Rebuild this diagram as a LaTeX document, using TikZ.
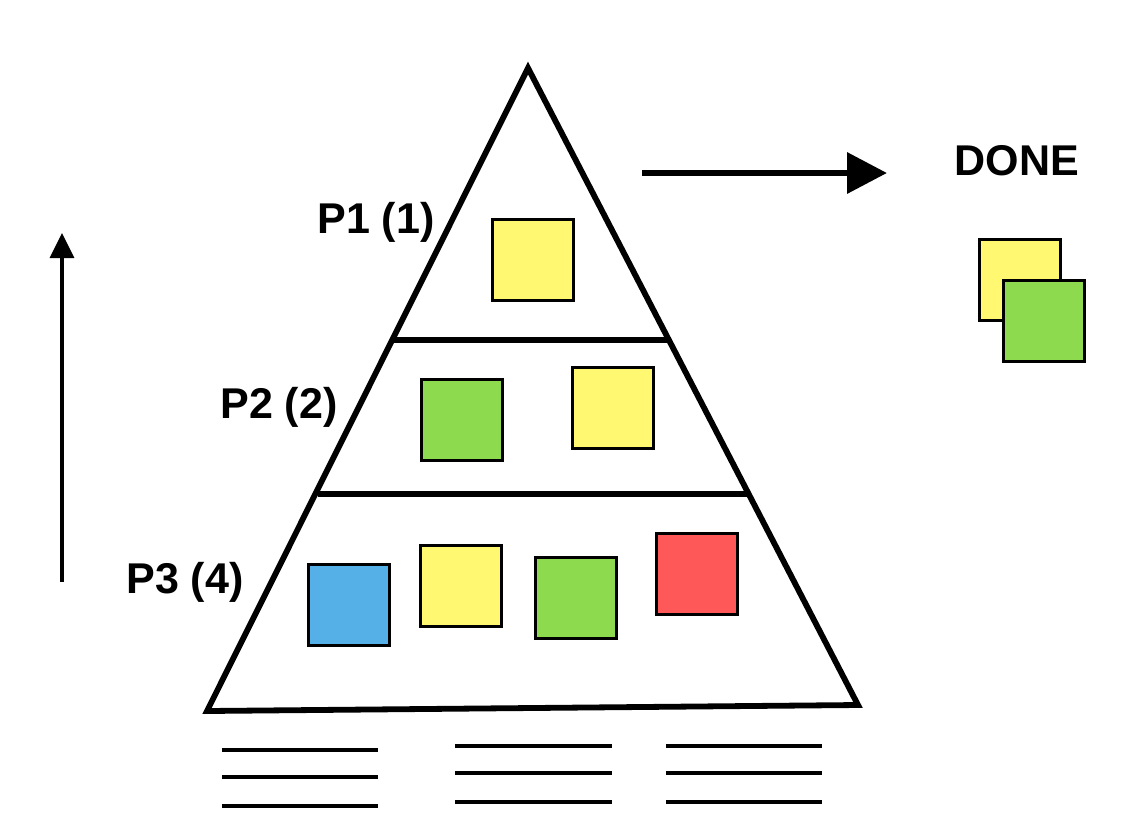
\documentclass[tikz,border=0pt]{standalone}
\usepackage{fontspec}
\setmainfont{Liberation Sans}
\usetikzlibrary{arrows.meta,positioning}
\definecolor{noteyellow}{RGB}{255,248,112}
\definecolor{notegreen}{RGB}{142,218,78}
\definecolor{noteblue}{RGB}{84,176,230}
\definecolor{notered}{RGB}{255,88,88}
\tikzset{
    %Define style for the sticky notes
    note/.style={
           rectangle,
           draw=black,
           line width=2pt,
           minimum size=1.62cm,
           inner sep=0pt},
    %Define style for the level labels
    lvl/.style={
           font=\fontsize{24.5}{28}\selectfont\bfseries,
           inner sep=0pt},
    % Pyramid outline
    wall/.style={
           line width=3.3pt,
           line join=miter},
    % Define arrow style
    pil/.style={
           -{Triangle[length=0.8cm,width=0.8cm]},
           line width=3.8pt},
    % Lines under the base
    rule/.style={
           line width=2.2pt}
}
\begin{document}
\begin{tikzpicture}[x=0.02cm,y=-0.02cm]
  \useasboundingbox (0,0) rectangle (1138,822);
  % pyramid and its levels
  \coordinate (apex) at (528,68);
  \coordinate (baseL) at (207,711);
  \coordinate (baseR) at (858,705);
  \draw[wall] (apex) -- (baseR) -- (baseL) -- cycle;
  \draw[wall] (392,340) -- (667,340);
  \draw[wall] (318,494) -- (747,494);
  % labels
  \node[lvl] (p1) at (376,222) {P1 (1)};
  \node[lvl] (p2) at (279,407) {P2 (2)};
  \node[lvl] (p3) at (185,582) {P3 (4)};
  \node[lvl] (done) at (1017,161) {DONE};
  % level 1
  \node[note,fill=noteyellow] (y1) at (533,260) {};
  % level 2
  \node[note,fill=notegreen] (g2) at (462,420) {};
  \node[note,fill=noteyellow] (y2) at (613,408) {};
  % level 3
  \node[note,fill=noteblue] (b3) at (349,605) {};
  \node[note,fill=noteyellow] (y3) at (461,586) {};
  \node[note,fill=notegreen] (g3) at (576,598) {};
  \node[note,fill=notered] (r3) at (697,574) {};
  % finished notes
  \node[note,fill=noteyellow] (ydone) at (1020,280) {};
  \node[note,fill=notegreen] (gdone) at (1044,321) {};
  % arrows
  \coordinate (go) at (642,173);
  \coordinate (goend) at (887,173);
  \draw[pil] (go) -- (goend);
  \coordinate (up) at (62,582);
  \coordinate (upend) at (62,233);
  \draw[-{Triangle[length=0.5cm,width=0.48cm]},line width=2pt] (up) -- (upend);
  % lines below the base
  \foreach \xa/\xb/\ya in {222/378/750,455/612/746,666/822/746}
    \foreach \dy in {0,27,56}
      \draw[rule] (\xa,\ya+\dy) -- (\xb,\ya+\dy);
\end{tikzpicture}
\end{document}
